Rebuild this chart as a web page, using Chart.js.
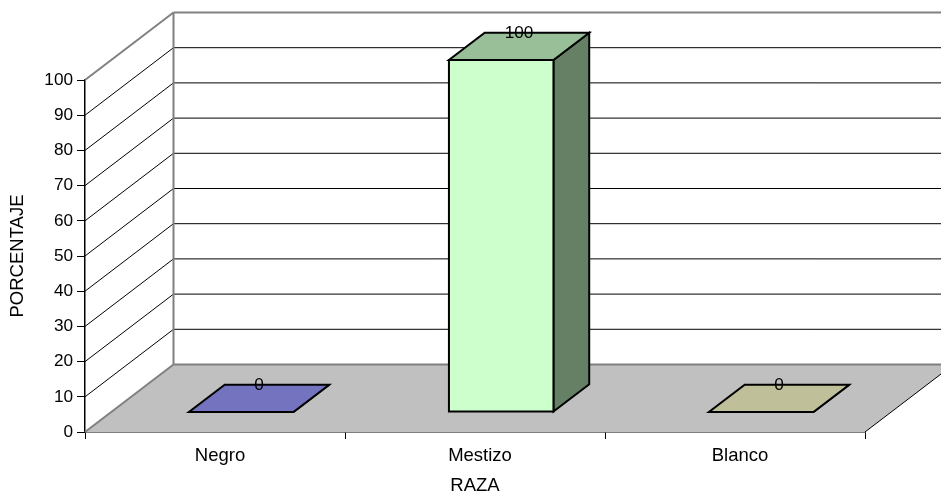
<!DOCTYPE html>
<html lang="es">
<head>
<meta charset="UTF-8">
<title>Raza</title>
<script src="https://cdn.jsdelivr.net/npm/chart.js"></script>
<style>
    body { margin: 0; background: #fff; }
    canvas { display: block; }
</style>
</head>
<body>
<canvas id="graph" width="941" height="493"></canvas>
<script>
    const categories = ['Negro', 'Mestizo', 'Blanco'];
    const values = [0, 100, 0];
    const yTicks = [0, 10, 20, 30, 40, 50, 60, 70, 80, 90, 100];
    const frontColors = ['#9999FF', '#CCFFCC', '#FFFFCC'];
    const topColors = ['#7373BF', '#99BF99', '#BFBF99'];
    const sideColors = ['#4D4D80', '#668066', '#808066'];

    // depth of the fake 3d box, and where the bars sit inside it
    const depthX = 88.5, depthY = 67.5;
    const barNear = 0.296, barFar = 0.70;
    const wallGrey = '#808080';
    const fontName = '"Liberation Sans", Arial, sans-serif';
    const fontSize = 18.5;
    const numberSize = 17.2;

    function poly(ctx, pts, fill, stroke, lw) {
        ctx.beginPath();
        pts.forEach((p, i) => i ? ctx.lineTo(p[0], p[1]) : ctx.moveTo(p[0], p[1]));
        ctx.closePath();
        if (fill) { ctx.fillStyle = fill; ctx.fill(); }
        if (stroke) { ctx.strokeStyle = stroke; ctx.lineWidth = lw; ctx.lineJoin = 'miter'; ctx.stroke(); }
    }

    function seg(ctx, x1, y1, x2, y2, color, lw) {
        ctx.beginPath();
        ctx.moveTo(x1, y1);
        ctx.lineTo(x2, y2);
        ctx.strokeStyle = color;
        ctx.lineWidth = lw;
        ctx.stroke();
    }

    const box3d = {
        id: 'box3d',
        beforeDatasetsDraw(chart) {
            const ctx = chart.ctx, area = chart.chartArea, y = chart.scales.y;
            const y0 = y.getPixelForValue(0), yMax = y.getPixelForValue(100);
            const l = area.left, r = area.right;
            ctx.save();
            // floor
            poly(ctx, [[l, y0], [r, y0], [r + depthX, y0 - depthY], [l + depthX, y0 - depthY]], '#C0C0C0');
            seg(ctx, r, y0, r + depthX, y0 - depthY, '#000', 1);
            // grid on side wall and back wall
            yTicks.forEach(v => {
                if (v === 0 || v === 100) return;
                const py = y.getPixelForValue(v);
                seg(ctx, l, py, l + depthX, py - depthY, '#000', 1);
                seg(ctx, l + depthX, py - depthY, r + depthX, py - depthY, '#000', 1);
            });
            // wall edges
            seg(ctx, l, yMax, l + depthX, yMax - depthY, wallGrey, 2);
            seg(ctx, l + depthX, yMax - depthY, r + depthX, yMax - depthY, wallGrey, 2);
            seg(ctx, l + depthX, yMax - depthY, l + depthX, y0 - depthY, wallGrey, 2);
            seg(ctx, l + depthX, y0 - depthY, r + depthX, y0 - depthY, wallGrey, 2);
            seg(ctx, l, y0, l + depthX, y0 - depthY, wallGrey, 2);
            ctx.restore();
        },
        beforeDatasetDraw() {
            // the flat bars are replaced by the boxes below
            return false;
        },
        afterDatasetsDraw(chart) {
            const ctx = chart.ctx;
            const meta = chart.getDatasetMeta(0);
            const nx = barNear * depthX, ny = barNear * depthY;
            const fx = barFar * depthX, fy = barFar * depthY;
            ctx.save();
            meta.data.forEach((bar, i) => {
                const left = bar.x - bar.width / 2, right = bar.x + bar.width / 2;
                const top = bar.y, base = bar.base;
                // side, top, front
                poly(ctx, [[right + nx, top - ny], [right + fx, top - fy], [right + fx, base - fy], [right + nx, base - ny]], sideColors[i], '#000', 2);
                poly(ctx, [[left + nx, top - ny], [right + nx, top - ny], [right + fx, top - fy], [left + fx, top - fy]], topColors[i], '#000', 2);
                if (base - top > 0) {
                    poly(ctx, [[left + nx, top - ny], [right + nx, top - ny], [right + nx, base - ny], [left + nx, base - ny]], frontColors[i], '#000', 2);
                }
            });
            // value labels
            ctx.fillStyle = '#000';
            ctx.font = numberSize + 'px ' + fontName;
            ctx.textAlign = 'center';
            ctx.textBaseline = 'middle';
            meta.data.forEach((bar, i) => {
                ctx.fillText(String(values[i]), bar.x + (nx + fx) / 2, bar.y - fy + 1);
            });
            ctx.restore();
        }
    };

    new Chart(document.getElementById('graph'), {
        type: 'bar',
        data: {
            labels: categories,
            datasets: [{
                label: 'RAZA',
                data: values,
                backgroundColor: frontColors,
                barPercentage: 0.402,
                categoryPercentage: 1
            }]
        },
        plugins: [box3d],
        options: {
            responsive: false,
            animation: false,
            layout: { padding: { left: 0, top: 80, right: 76, bottom: 0 } },
            plugins: { legend: { display: false }, tooltip: { enabled: false } },
            scales: {
                x: {
                    afterFit: s => { s.height = 61; },
                    grid: { drawOnChartArea: false, color: '#000', tickLength: 7 },
                    border: { color: '#000', width: 1.5 },
                    ticks: { color: '#000', padding: 6, labelOffset: 5, maxRotation: 0, font: { family: fontName, size: fontSize } },
                    title: { display: true, text: 'RAZA', color: '#000', padding: 0, font: { family: fontName, size: fontSize, lineHeight: 0.8 } }
                },
                y: {
                    min: 0,
                    max: 100,
                    afterFit: s => { s.width = 85; },
                    afterBuildTicks: s => { s.ticks = yTicks.map(v => ({ value: v })); },
                    grid: { drawOnChartArea: false, color: '#000', tickLength: 8 },
                    border: { color: '#000', width: 1.5 },
                    ticks: { color: '#000', padding: 4, font: { family: fontName, size: numberSize } },
                    title: { display: true, text: 'PORCENTAJE', color: '#000', padding: { top: 9, bottom: 0 }, font: { family: fontName, size: fontSize, lineHeight: 1 } }
                }
            }
        }
    });
</script>
</body>
</html>
